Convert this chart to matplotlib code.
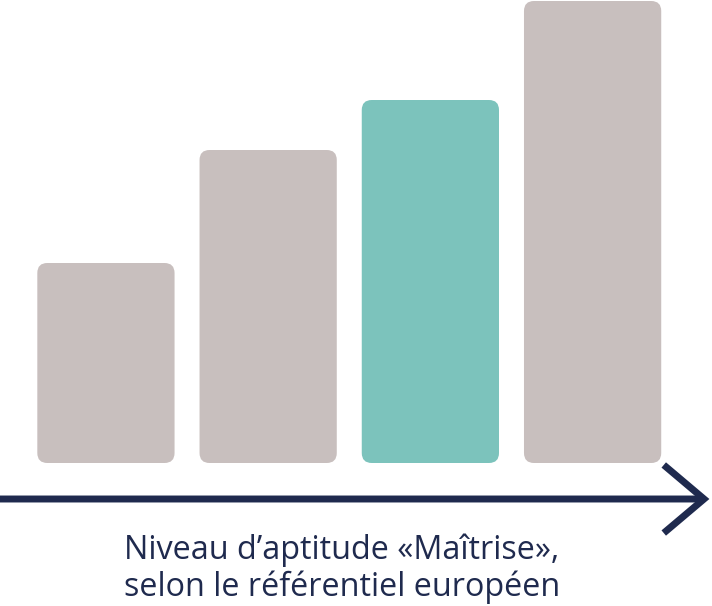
import matplotlib
matplotlib.use("Agg")
import matplotlib.pyplot as plt
from matplotlib.patches import FancyBboxPatch

categories = ["Niveau 1", "Niveau 2", "Maîtrise", "Niveau 4"]
values = [2.00, 3.13, 3.63, 4.62]
colors = ["#c8bfbe", "#c8bfbe", "#7cc3bc", "#c8bfbe"]
label_lines = ["Niveau d\u2019aptitude «Maîtrise»,", "selon le référentiel européen"]

W, H = 712, 606
fig = plt.figure(figsize=(W / 100, H / 100), dpi=100)
ax = fig.add_axes([0, 0, 1, 1])
ax.set_xlim(-0.653, 3.736)
ax.set_ylim(-1.43, 4.63)
ax.axis("off")

bar_w = 0.846
bars = ax.bar(range(len(values)), values, width=bar_w, color=colors)
# px per unit: x 162.2, y 100 -> aspect
aspect = (1 / 100) / (1 / 162.2)
r = 10 / 162.2
for b, c in zip(bars, colors):
    x, y = b.get_x(), b.get_y()
    w, h = b.get_width(), b.get_height()
    b.remove()
    p = FancyBboxPatch((x, y), w, h,
                       boxstyle=f"round,pad=0,rounding_size={r}",
                       mutation_aspect=aspect, fc=c, ec="none")
    ax.add_patch(p)

navy = "#1f2a4e"
ax.annotate("", xy=(3.72, -0.36), xytext=(-0.7, -0.36),
            arrowprops=dict(arrowstyle="->,head_length=2.9,head_width=2.45",
                            lw=5, color=navy, mutation_scale=10,
                            shrinkA=0, shrinkB=0, joinstyle="miter",
                            capstyle="butt"))

fig.text(342 / W, 1 - 559 / H, label_lines[0], ha="center", va="baseline",
         fontsize=23.3, color=navy, family="Open Sans")
fig.text(342 / W, 1 - 596 / H, label_lines[1], ha="center", va="baseline",
         fontsize=23.3, color=navy, family="Open Sans")

fig.savefig("out.png", dpi=100)
